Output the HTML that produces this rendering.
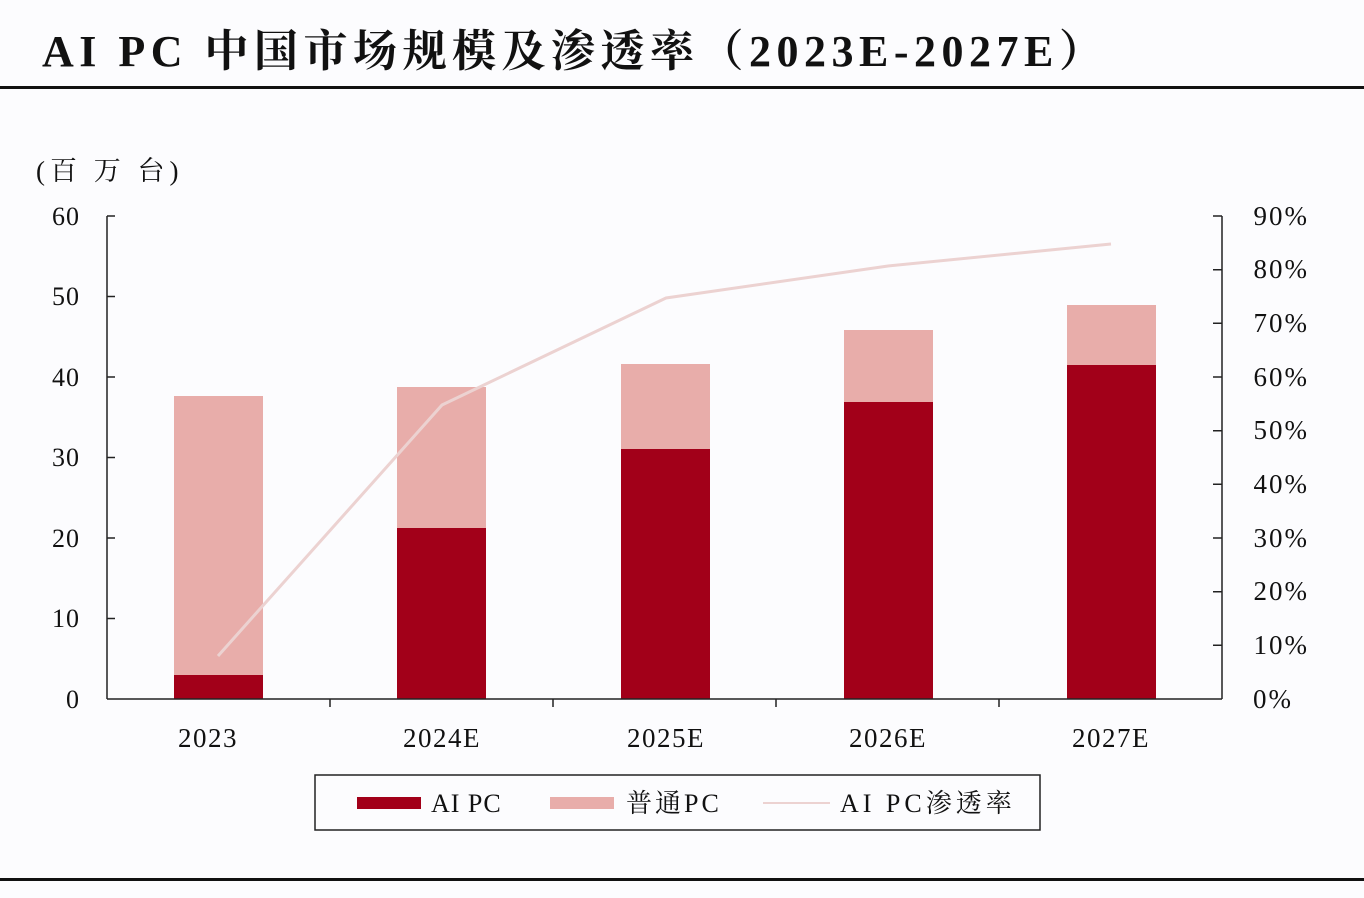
<!DOCTYPE html>
<html><head><meta charset="utf-8"><style>
html,body{margin:0;padding:0;background:#fcfcfe;}
svg{display:block}
</style></head><body>
<svg width="1364" height="898" viewBox="0 0 1364 898" xmlns="http://www.w3.org/2000/svg" font-family="'Liberation Serif','Noto Serif CJK SC',serif">
<rect width="1364" height="898" fill="#fcfcfe"/>
<text x="42" y="66" font-size="44" font-weight="bold" fill="#111" letter-spacing="5.5">AI PC 中国市场规模及渗透率（2023E-2027E）</text>
<rect x="0" y="86" width="1364" height="3" fill="#111"/>
<rect x="0" y="878" width="1364" height="3" fill="#111"/>
<text x="36" y="180" font-size="27" fill="#111" letter-spacing="5">(百 万 台)</text>
<g fill="#e8adaa">
<rect x="174" y="396" width="89" height="303"/>
<rect x="397" y="387" width="89" height="312"/>
<rect x="621" y="364" width="89" height="335"/>
<rect x="844" y="330" width="89" height="369"/>
<rect x="1067" y="305" width="89" height="394"/>
</g>
<g fill="#a20019">
<rect x="174" y="675" width="89" height="24"/>
<rect x="397" y="528" width="89" height="171"/>
<rect x="621" y="449" width="89" height="250"/>
<rect x="844" y="402" width="89" height="297"/>
<rect x="1067" y="365" width="89" height="334"/>
</g>
<polyline points="218,656 442,405 666,298 888,266 1111,244" fill="none" stroke="#ecd2d1" stroke-width="3"/>
<g stroke="#222" stroke-width="1.5" fill="none">
<line x1="107" y1="216" x2="107" y2="699"/>
<line x1="1222" y1="216" x2="1222" y2="699"/>
<line x1="107" y1="699" x2="1222" y2="699"/>
<path d="M107 216h8M107 296.5h8M107 377h8M107 457.5h8M107 538h8M107 618.5h8"/>
<path d="M1213 216h9M1213 269.7h9M1213 323.3h9M1213 377h9M1213 430.7h9M1213 484.3h9M1213 538h9M1213 591.7h9M1213 645.3h9"/>
<path d="M330 699v8M553 699v8M776 699v8M999 699v8"/>
</g>
<g font-size="26" fill="#111" text-anchor="end" letter-spacing="1">
<text x="80" y="225">60</text><text x="80" y="305">50</text><text x="80" y="386">40</text>
<text x="80" y="466">30</text><text x="80" y="547">20</text><text x="80" y="627">10</text><text x="80" y="708">0</text>
</g>
<g font-size="27" fill="#111" text-anchor="end" letter-spacing="2">
<text x="1309" y="225">90%</text><text x="1309" y="278">80%</text><text x="1309" y="332">70%</text>
<text x="1309" y="386">60%</text><text x="1309" y="439">50%</text><text x="1309" y="493">40%</text>
<text x="1309" y="547">30%</text><text x="1309" y="600">20%</text><text x="1309" y="654">10%</text>
<text x="1293" y="708">0%</text>
</g>
<g font-size="27" fill="#111" text-anchor="middle" letter-spacing="1.5">
<text x="208" y="747">2023</text><text x="442" y="747">2024E</text><text x="666" y="747">2025E</text>
<text x="888" y="747">2026E</text><text x="1111" y="747">2027E</text>
</g>
<rect x="315" y="775" width="725" height="55" fill="none" stroke="#222" stroke-width="1.5"/>
<rect x="357" y="797" width="64" height="12" fill="#a20019"/>
<text x="431" y="812" font-size="26" fill="#111" letter-spacing="1">AI PC</text>
<rect x="550" y="797" width="64" height="12" fill="#e8adaa"/>
<text x="626" y="812" font-size="26" fill="#111" letter-spacing="3">普通PC</text>
<line x1="763" y1="803" x2="830" y2="803" stroke="#ecd2d1" stroke-width="2"/>
<text x="840" y="812" font-size="26" fill="#111" letter-spacing="4">AI PC渗透率</text>
</svg>
</body></html>
